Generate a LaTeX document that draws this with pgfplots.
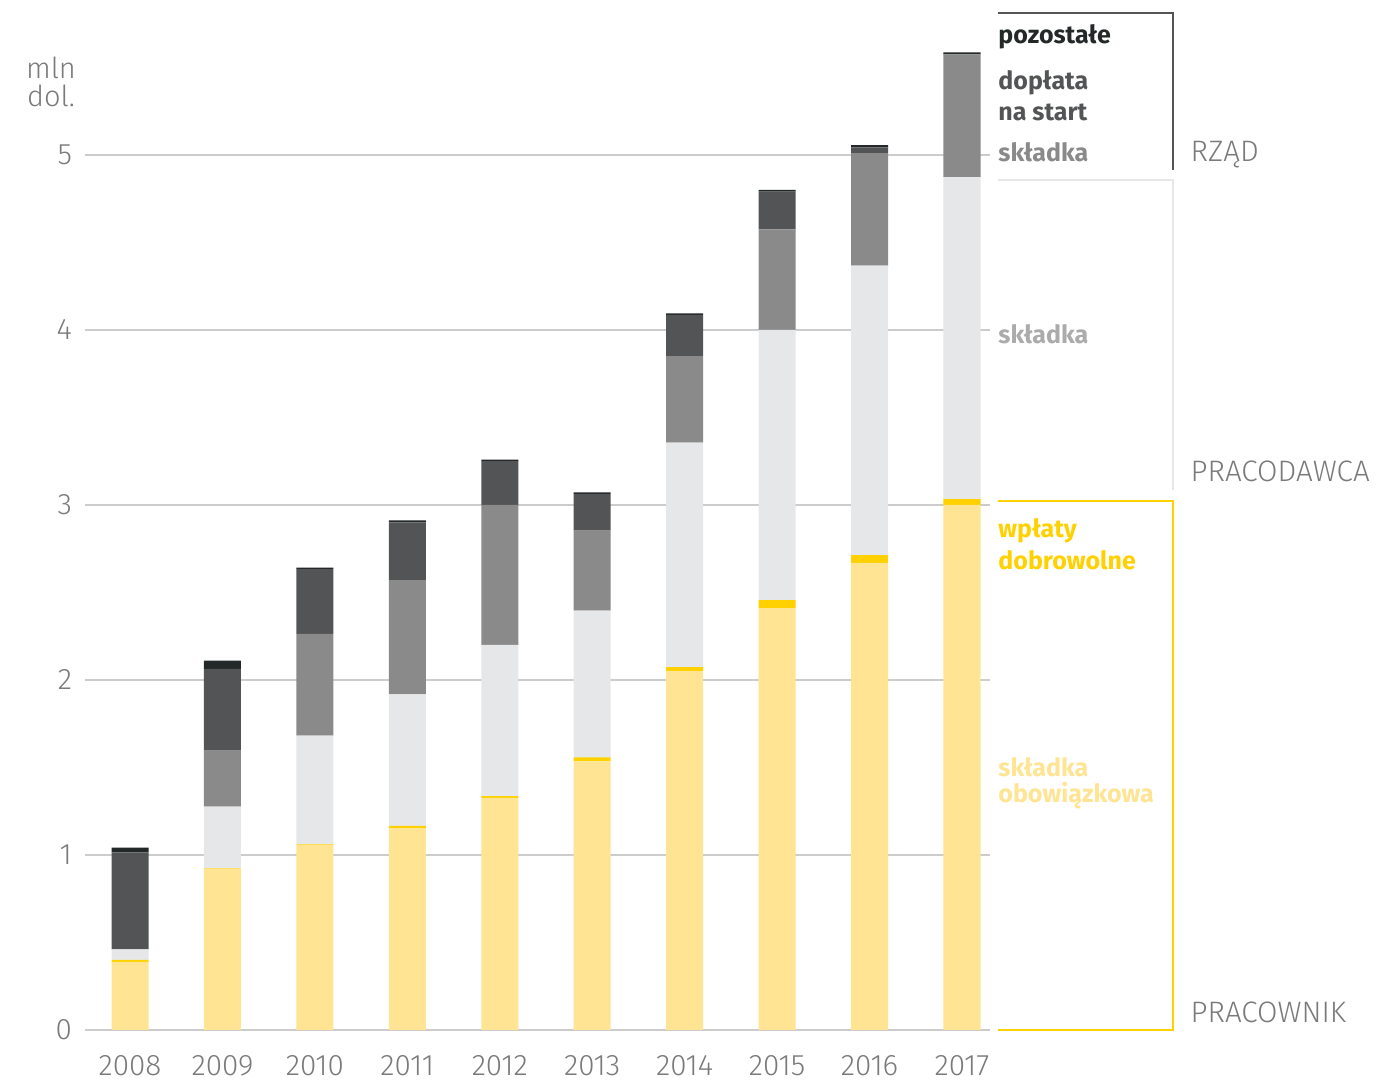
\documentclass[border=0pt]{standalone}
\usepackage{pgfplots}
\pgfplotsset{compat=1.18}
\usepackage{fontspec}
\setmainfont{Fira Sans}[UprightFont={* Light}, BoldFont={* Bold}]
\definecolor{cObw}{HTML}{FFE493}
\definecolor{cWpl}{HTML}{FFD100}
\definecolor{cPrac}{HTML}{E6E7E8}
\definecolor{cRzad}{HTML}{8A8A8A}
\definecolor{cDop}{HTML}{535455}
\definecolor{cPoz}{HTML}{232828}
\definecolor{cTick}{HTML}{7A7A7A}
\definecolor{cPracLbl}{HTML}{ABABAB}
\begin{document}
\begin{tikzpicture}
\useasboundingbox (-42.5pt,-25pt) rectangle (655.5pt,515pt);
\begin{axis}[
  scale only axis, width=452.5pt, height=509.25pt,
  xmin=-0.487, xmax=9.303, ymin=0, ymax=5.82,
  enlargelimits=false, clip=false,
  ybar stacked, bar width=18.5pt,
  axis line style={draw=none}, tick style={draw=none},
  ymajorgrids, grid style={black!20, line width=0.6pt},
  xtick={0,...,9}, xticklabels={2008,2009,2010,2011,2012,2013,2014,2015,2016,2017},
  ytick={0,1,2,3,4,5},
  /pgf/number format/assume math mode=true,
  ticklabel style={font=\fontsize{14.8pt}{16pt}\selectfont, text=cTick},
  yticklabel style={xshift=-3pt},
  xticklabel style={yshift=-9pt},
]
% skladka obowiazkowa
\addplot[fill=cObw, draw=none] coordinates {(0,0.389) (1,0.922) (2,1.057) (3,1.154) (4,1.326) (5,1.535) (6,2.051) (7,2.410) (8,2.669) (9,3.000)};
% wplaty dobrowolne
\addplot[fill=cWpl, draw=none] coordinates {(0,0.011) (1,0.003) (2,0.003) (3,0.012) (4,0.011) (5,0.023) (6,0.023) (7,0.047) (8,0.045) (9,0.034)};
% pracodawca skladka
\addplot[fill=cPrac, draw=none] coordinates {(0,0.061) (1,0.351) (2,0.622) (3,0.752) (4,0.863) (5,0.838) (6,1.282) (7,1.543) (8,1.654) (9,1.839)};
% rzad skladka
\addplot[fill=cRzad, draw=none] coordinates {(0,0) (1,0.320) (2,0.581) (3,0.653) (4,0.800) (5,0.457) (6,0.495) (7,0.575) (8,0.643) (9,0.702)};
% doplata na start
\addplot[fill=cDop, draw=none] coordinates {(0,0.554) (1,0.467) (2,0.371) (3,0.330) (4,0.250) (5,0.210) (6,0.235) (7,0.215) (8,0.033) (9,0)};
% pozostale
\addplot[fill=cPoz, draw=none] coordinates {(0,0.027) (1,0.047) (2,0.008) (3,0.011) (4,0.009) (5,0.009) (6,0.009) (7,0.010) (8,0.013) (9,0.012)};

% unit label
\node[text=cTick, font=\fontsize{14.5pt}{16pt}\selectfont, align=center] at (axis cs:-0.855,5.42) {mln\\[-2pt]dol.};

% brackets
\draw[cDop, line width=1.1pt] (axis cs:9.39,5.811) -- (axis cs:11.283,5.811) -- (axis cs:11.283,4.914);
\draw[cPrac, line width=1.1pt] (axis cs:9.39,4.857) -- (axis cs:11.283,4.857) -- (axis cs:11.283,3.086);
\draw[cWpl, line width=1.1pt] (axis cs:9.39,3.023) -- (axis cs:11.283,3.023) -- (axis cs:11.283,0) -- (axis cs:9.39,0);

\tikzset{lbl/.style={anchor=west, inner sep=0pt, font=\bfseries\fontsize{12.5pt}{14pt}\selectfont}}
\node[lbl, text=cPoz] at (axis cs:9.39,5.674) {pozostałe};
\node[lbl, text=cDop] at (axis cs:9.39,5.411) {dopłata};
\node[lbl, text=cDop] at (axis cs:9.39,5.246) {na start};
\node[lbl, text=cRzad] at (axis cs:9.39,5.017) {składka};
\node[lbl, text=cPracLbl] at (axis cs:9.39,3.977) {składka};
\node[lbl, text=cWpl] at (axis cs:9.39,2.851) {wpłaty};
\node[lbl, text=cWpl] at (axis cs:9.39,2.686) {dobrowolne};
\node[lbl, text=cObw] at (axis cs:9.39,1.503) {składka};
\node[lbl, text=cObw] at (axis cs:9.39,1.337) {obowiązkowa};

\tikzset{grp/.style={anchor=west, inner sep=0pt, text=cTick, font=\fontsize{14.8pt}{16pt}\selectfont}}
\node[grp] at (axis cs:11.47,5.0) {RZĄD};
\node[grp] at (axis cs:11.47,3.19) {PRACODAWCA};
\node[grp] at (axis cs:11.47,0.10) {PRACOWNIK};
\end{axis}
\end{tikzpicture}
\end{document}
